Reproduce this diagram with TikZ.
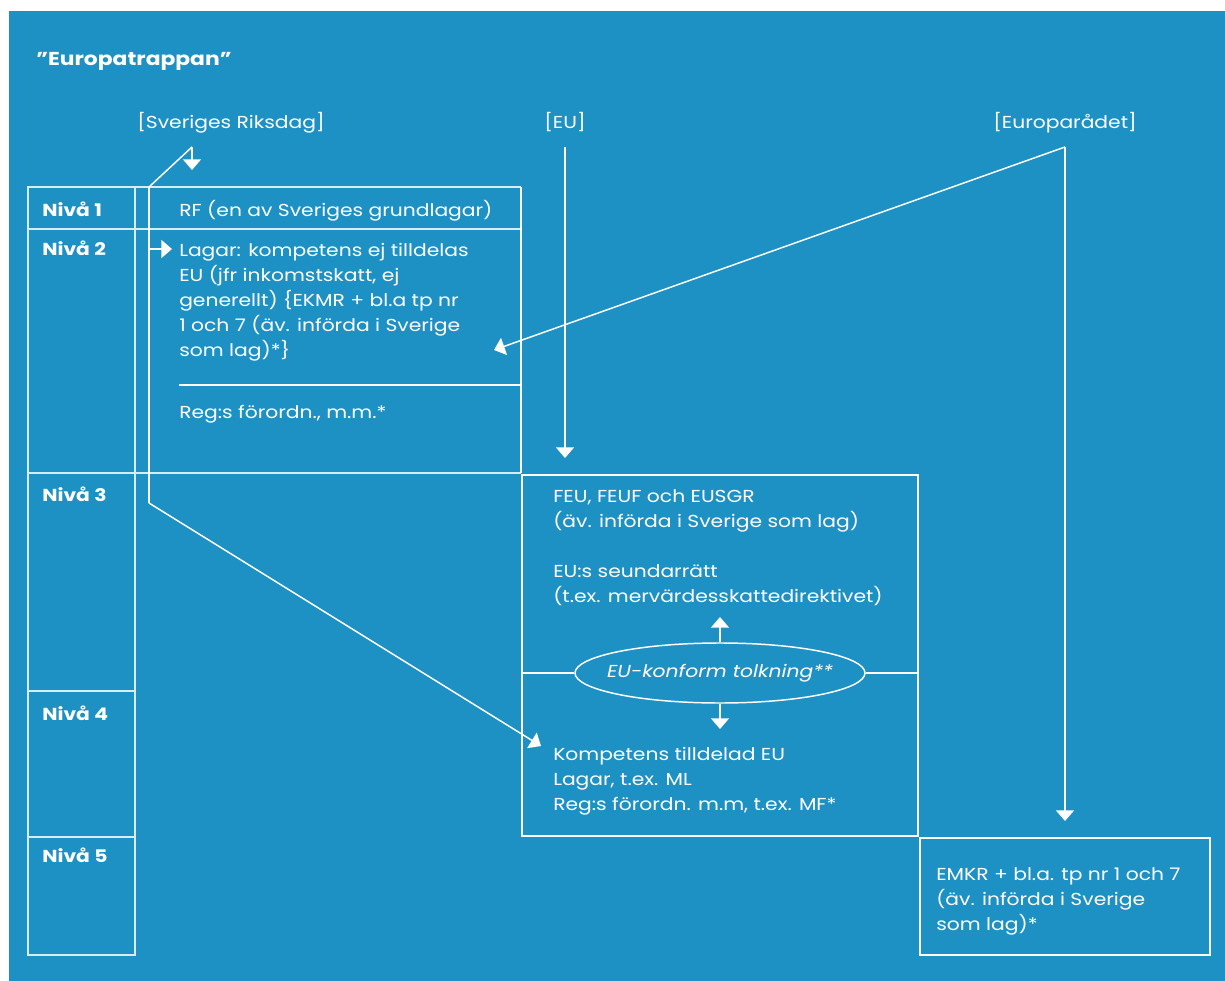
\documentclass[tikz,border=0pt]{standalone}
\usepackage{fontspec}
\setmainfont{Poppins}[FakeStretch=1.17]
\usetikzlibrary{arrows.meta,shapes.geometric,fit}
\definecolor{bg}{HTML}{1E91C4}
\definecolor{ln}{HTML}{D6ECF6}
\begin{document}
\begin{tikzpicture}[x=0.75pt,y=-0.75pt,
  wline/.style={draw=white,line width=1.1pt},
  cline/.style={draw=ln,line width=1.1pt},
  arr/.style={wline,-{Triangle[width=13.5pt,length=8pt]}},
  frame/.style={fit={#1},inner sep=0pt,draw=white,line width=1.1pt},
  cframe/.style={fit={#1},inner sep=0pt,draw=ln,line width=1.1pt},
  txt/.style={text=white,font=\fontsize{13pt}{18.75pt}\selectfont,anchor=base west,inner sep=0pt},
  btxt/.style={txt,font=\fontsize{13pt}{18.75pt}\selectfont\bfseries},
  ctxt/.style={txt,anchor=base},
]
\useasboundingbox (0,0) rectangle (1225,981);
\fill[bg] (9,11) rectangle (1225,981);

% title
\node[btxt,font=\fontsize{14pt}{18pt}\selectfont\bfseries] (title) at (36,65) {”Europatrappan”};

% headers
\node[ctxt] (riks) at (231,128) {[Sveriges Riksdag]};
\node[ctxt] (eu) at (565,128) {[EU]};
\node[ctxt] (er) at (1065,128) {[Europarådet]};

% level column
\node[cframe={(28,187)(135,229)}] (n1) {};
\node[cframe={(28,229)(135,473)}] (n2) {};
\node[cframe={(28,473)(135,691)}] (n3) {};
\node[cframe={(28,691)(135,837)}] (n4) {};
\node[cframe={(28,837)(135,955)}] (n5) {};
\node[btxt] (l1) at (42,216) {Nivå 1};
\node[btxt] (l2) at (42,255) {Nivå 2};
\node[btxt] (l3) at (42,501) {Nivå 3};
\node[btxt] (l4) at (42,720) {Nivå 4};
\node[btxt] (l5) at (42,862) {Nivå 5};

% Swedish boxes
\coordinate (s1) at (135,187);
\coordinate (s2) at (521,187);
\coordinate (s3) at (135,229);
\coordinate (s4) at (521,229);
\coordinate (s5) at (135,473);
\coordinate (s6) at (521,473);
\coordinate (sep1) at (179,385);
\coordinate (sep2) at (521,385);
\coordinate (v1) at (149,187);
\coordinate (v2) at (149,503);
\draw[cline] (s1) -- (s2) (s3) -- (s4) (s5) -- (s6);
\draw[wline] (s2) -- (s6);
\draw[wline] (sep1) -- (sep2);
\draw[wline] (v1) -- (v2);

\node[txt] (rf) at (179,216) {RF (en av Sveriges grundlagar)};
\node[txt,anchor=north west,align=left] (lag) at (179,243) {Lagar: kompetens ej tilldelas\\EU (jfr inkomstskatt, ej\\generellt) \{EKMR + bl.a tp nr\\1 och 7 (äv. införda i Sverige\\som lag)*\}};
\node[txt] (reg) at (179,418) {Reg:s förordn., m.m.*};

% EU box
\node[frame={(522,475)(918,836)}] (eubox) {};
\node[txt,anchor=north west,align=left] (feu) at (553,489) {FEU, FEUF och EUSGR\\(äv. införda i Sverige som lag)};
\node[txt,anchor=north west,align=left] (sek) at (553,564) {EU:s seundarrätt\\(t.ex. mervärdesskattedirektivet)};
\node[draw=white,line width=1.1pt,ellipse,minimum width=290*0.75pt,minimum height=60*0.75pt,inner xsep=-8.6pt,inner ysep=0pt,text=white,font=\fontsize{13pt}{18.75pt}\selectfont\itshape] (ell) at (720,673) {EU-konform tolkning**};
\node[txt,anchor=north west,align=left] (komp) at (553,747) {Kompetens tilldelad EU\\Lagar, t.ex. ML\\Reg:s förordn. m.m, t.ex. MF*};
\draw[wline] (ell.west) -- (eubox.west |- ell.west);
\draw[wline] (ell.east) -- (eubox.east |- ell.east);
\coordinate (up) at (720,617);
\coordinate (dn) at (720,729);
\draw[arr] (ell.north) -- (up);
\draw[arr] (ell.south) -- (dn);

% Level 5 box
\node[frame={(920,838)(1210,955)}] (emkr) {};
\node[txt,anchor=north west,align=left] (emt) at (936,867) {EMKR + bl.a. tp nr 1 och 7\\(äv. införda i Sverige\\som lag)*};

% Riksdag arrows
\coordinate (rk) at (192,147);
\coordinate (rkt) at (192,170);
\draw[wline] (v1) -- (rk);
\draw[arr] (rk) -- (rkt);
\coordinate (la0) at (149,249);
\coordinate (la1) at (172,249);
\draw[arr] (la0) -- (la1);
\coordinate (kt) at (541,746);
\draw[arr] (v2) -- (kt);

% EU arrow
\coordinate (eu0) at (565,147);
\coordinate (eu1) at (565,458);
\draw[arr] (eu0) -- (eu1);

% Europaradet arrows
\coordinate (er0) at (1065,147);
\coordinate (er1) at (494,350);
\coordinate (er2) at (1065,821);
\draw[arr] (er0) -- (er1);
\draw[arr] (er0) -- (er2);
\end{tikzpicture}
\end{document}
